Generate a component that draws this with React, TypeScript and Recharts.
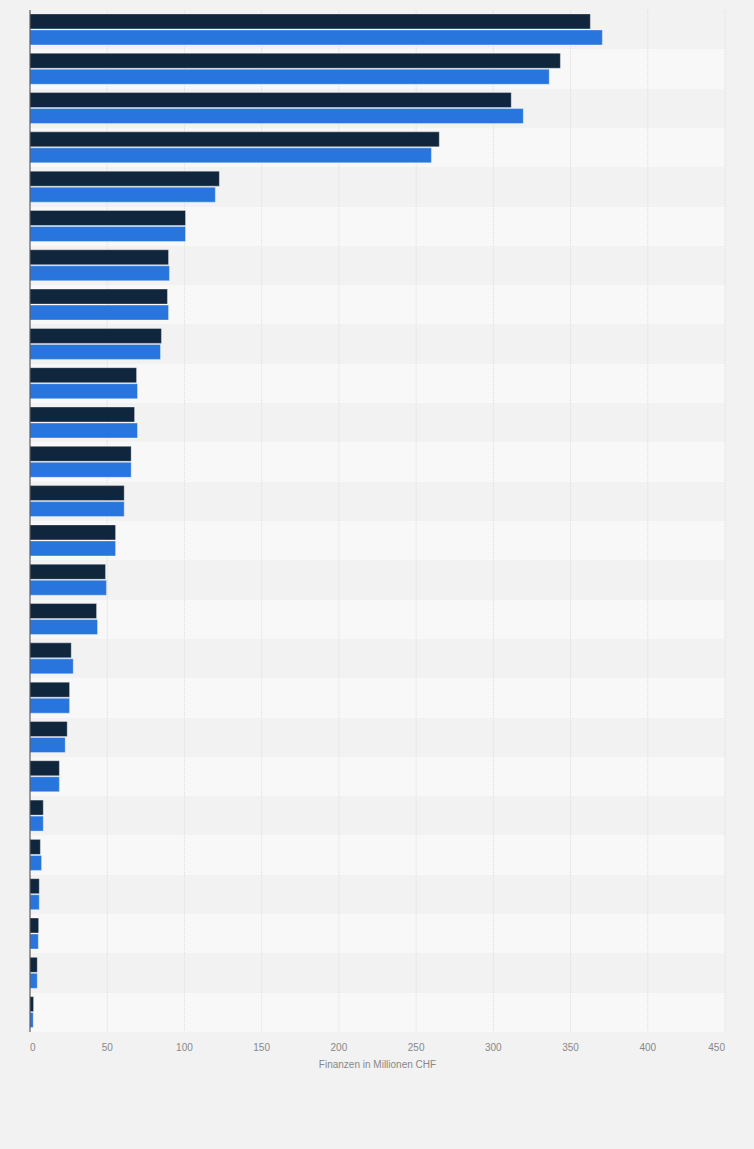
import { BarChart, Bar, XAxis, YAxis, CartesianGrid, ReferenceLine } from 'recharts'

const categories = [
  'K1', 'K2', 'K3', 'K4', 'K5', 'K6', 'K7', 'K8', 'K9', 'K10', 'K11', 'K12', 'K13',
  'K14', 'K15', 'K16', 'K17', 'K18', 'K19', 'K20', 'K21', 'K22', 'K23', 'K24', 'K25', 'K26',
]

const serieDunkel = [
  362.8, 343.4, 311.6, 265, 122.6, 100.7, 89.7, 89, 85.1, 69, 67.7, 65.5, 61,
  55.4, 48.9, 43.1, 26.7, 25.6, 24.1, 19, 8.6, 6.7, 6, 5.6, 4.7, 2.3,
]

const serieBlau = [
  370.6, 336.2, 319.4, 259.9, 120, 100.7, 90.3, 89.7, 84.5, 69.6, 69.6, 65.5, 61,
  55.4, 49.5, 43.7, 28, 25.6, 22.8, 19, 8.6, 7.5, 6, 5.4, 4.7, 2.1,
]

const xTicks = [0, 50, 100, 150, 200, 250, 300, 350, 400, 450]

const data = categories.map((name, i) => ({ name, dunkel: serieDunkel[i], blau: serieBlau[i] }))

const FONT = '"Liberation Sans", Arial, sans-serif'

function Tick({ x, y, payload, index }: any) {
  const anchor = index === 0 ? 'start' : index === xTicks.length - 1 ? 'end' : 'middle'
  return (
    <text x={x} y={y} dy="0.71em" textAnchor={anchor} fontSize={10} fill="#888" fontFamily={FONT}>
      {payload.value}
    </text>
  )
}

// Streifen an den Kategoriegrenzen statt an den Bandmitten
function bandGrenzen({ yAxis, offset }: any) {
  if (yAxis && typeof yAxis.scale === 'function') {
    const pts = categories.map(c => yAxis.scale(c)).filter((v: any) => typeof v === 'number' && !isNaN(v))
    if (pts.length === categories.length) return pts
  }
  const step = offset.height / categories.length
  return categories.map((_, i) => offset.top + i * step)
}

export default function App() {
  return (
    <div style={{ width: 754, height: 1149, background: '#f2f2f2' }}>
      <style>{'body{margin:0;background:#f2f2f2}'}</style>
      <BarChart
        width={754}
        height={1149}
        data={data}
        layout="vertical"
        margin={{ top: 10, right: 29, left: 30, bottom: 77 }}
        barCategoryGap="10%"
        barGap={1}
      >
        <CartesianGrid
          vertical={false}
          stroke="none"
          horizontalCoordinatesGenerator={bandGrenzen}
          horizontalFill={['#f2f2f2', '#f8f8f8']}
          fillOpacity={1}
        />
        <CartesianGrid horizontal={false} stroke="#dddddd" strokeDasharray="1 1" />
        <XAxis
          type="number"
          domain={[0, 450]}
          ticks={xTicks}
          interval={0}
          axisLine={false}
          tickLine={false}
          tickSize={6}
          tickMargin={6}
          height={40}
          tick={<Tick />}
          label={{
            value: 'Finanzen in Millionen CHF',
            position: 'insideTop',
            offset: 29,
            fontSize: 10,
            fill: '#888',
            fontFamily: FONT,
          }}
        />
        <YAxis type="category" dataKey="name" hide />
        <Bar dataKey="dunkel" name="Reihe 1" fill="#10263d" stroke="#ffffff" strokeOpacity={0.35} isAnimationActive={false} />
        <Bar dataKey="blau" name="Reihe 2" fill="#2876dd" stroke="#ffffff" strokeOpacity={0.35} isAnimationActive={false} />
        <ReferenceLine x={0} stroke="#444" strokeWidth={1} />
      </BarChart>
    </div>
  )
}
